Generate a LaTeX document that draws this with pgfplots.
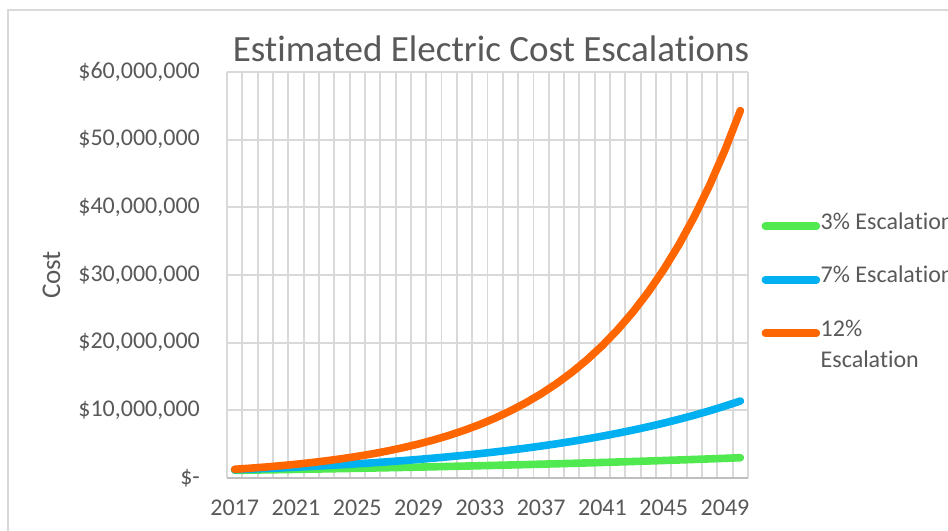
\documentclass[border=0pt]{standalone}
\usepackage{fontspec}
\setmainfont{Carlito}[Ligatures=CommonOff]
\usepackage{pgfplots}
\pgfplotsset{compat=1.18}
\usepackage{pgfplotstable}
\definecolor{txt}{HTML}{595959}
\definecolor{gridc}{HTML}{D9D9D9}
\definecolor{axc}{HTML}{BFBFBF}
\definecolor{cgreen}{RGB}{80,233,80}
\definecolor{cblue}{HTML}{00B0F0}
\definecolor{corange}{HTML}{FF6600}

% values in millions of dollars
\pgfplotstableread{
year c3 c7 c12
2017 1.130 1.220 1.290
2018 1.164 1.305 1.445
2019 1.199 1.397 1.618
2020 1.235 1.495 1.812
2021 1.272 1.599 2.030
2022 1.310 1.711 2.273
2023 1.349 1.831 2.546
2024 1.390 1.959 2.852
2025 1.431 2.096 3.194
2026 1.474 2.243 3.577
2027 1.519 2.400 4.007
2028 1.564 2.568 4.487
2029 1.611 2.748 5.026
2030 1.659 2.940 5.629
2031 1.709 3.146 6.304
2032 1.761 3.366 7.061
2033 1.813 3.602 7.908
2034 1.868 3.854 8.857
2035 1.924 4.124 9.920
2036 1.981 4.412 11.111
2037 2.041 4.721 12.444
2038 2.102 5.052 13.937
2039 2.165 5.405 15.609
2040 2.230 5.783 17.482
2041 2.297 6.188 19.580
2042 2.366 6.621 21.930
2043 2.437 7.085 24.562
2044 2.510 7.581 27.509
2045 2.585 8.111 30.810
2046 2.663 8.679 34.507
2047 2.743 9.287 38.648
2048 2.825 9.937 43.286
2049 2.910 10.633 48.480
2050 2.997 11.377 54.298
}\costdata

\begin{document}
\begin{tikzpicture}
\useasboundingbox (0,0) rectangle (948bp,531bp);
\fill[white] (0,0) rectangle (948bp,531bp);
\draw[gridc, line width=1.5bp] (8bp,0) -- (8bp,521bp) -- (948bp,521bp);
\begin{axis}[
  at={(227bp,53bp)}, anchor=south west,
  scale only axis, width=521bp, height=406bp,
  xmin=2016.5, xmax=2050.5, ymin=0, ymax=60,
  xtick={2017,2021,...,2049},
  xticklabels={2017,2021,2025,2029,2033,2037,2041,2045,2049},
  minor xtick={2016.5,2017.5,...,2050.5},
  ytick={0,10,...,60},
  yticklabels={{\$-\hspace{11bp}},{\$10,000,000},{\$20,000,000},{\$30,000,000},{\$40,000,000},{\$50,000,000},{\$60,000,000}},
  xmajorgrids=false, xminorgrids=true, ymajorgrids=true,
  grid style={gridc, line width=1.9bp},
  minor grid style={gridc, line width=1.9bp},
  axis x line*=bottom, axis y line*=left,
  x axis line style={axc, line width=2.2bp},
  y axis line style={draw=none},
  major tick length=0pt, minor tick length=0pt,
  tick style={draw=none},
  /pgf/number format/assume math mode=true,
  ticklabel style={font=\fontsize{24bp}{28bp}\selectfont, text=txt},
  yticklabel style={anchor=east, inner sep=0pt, xshift=-27bp},
  xticklabel style={anchor=center, inner sep=0pt, yshift=-30bp},
  title={Estimated Electric Cost Escalations},
  title style={at={(axis description cs:0.5067,1)}, anchor=base, yshift=5bp,
    font=\fontsize{37bp}{44bp}\selectfont, text=txt, inner sep=0pt},
  ylabel={Cost},
  ylabel style={at={(axis description cs:-0.3205,0.5)}, anchor=base,
    font=\fontsize{27bp}{32bp}\selectfont, text=txt, inner sep=0pt},
  legend cell align=left,
  legend style={at={(axis description cs:1.0261,0.6305)}, anchor=north west,
    draw=none, fill=none, inner sep=0pt, outer sep=0pt,
    row sep=45bp, column sep=0.5bp,
    font=\fontsize{24bp}{28bp}\selectfont, text=txt,
    nodes={inner sep=0pt, text height=0.75em, text depth=0.1em},
    cells={anchor=west}},
  legend image code/.code={\draw[#1, line cap=round] (0bp,0bp) -- (51bp,0bp);},
]
\addplot[cgreen, line width=7.6bp, line cap=round, line join=round] table[x=year,y=c3]{\costdata};
\addlegendentry{3\% Escalation}
\addplot[cblue, line width=7.6bp, line cap=round, line join=round] table[x=year,y=c7]{\costdata};
\addlegendentry{7\% Escalation}
\addplot[corange, line width=7.6bp, line cap=round, line join=round] table[x=year,y=c12]{\costdata};
\addlegendentry{\makebox[0pt][l]{\raisebox{-31bp}[0pt][0pt]{Escalation}}12\%}
\end{axis}
\end{tikzpicture}
\end{document}
